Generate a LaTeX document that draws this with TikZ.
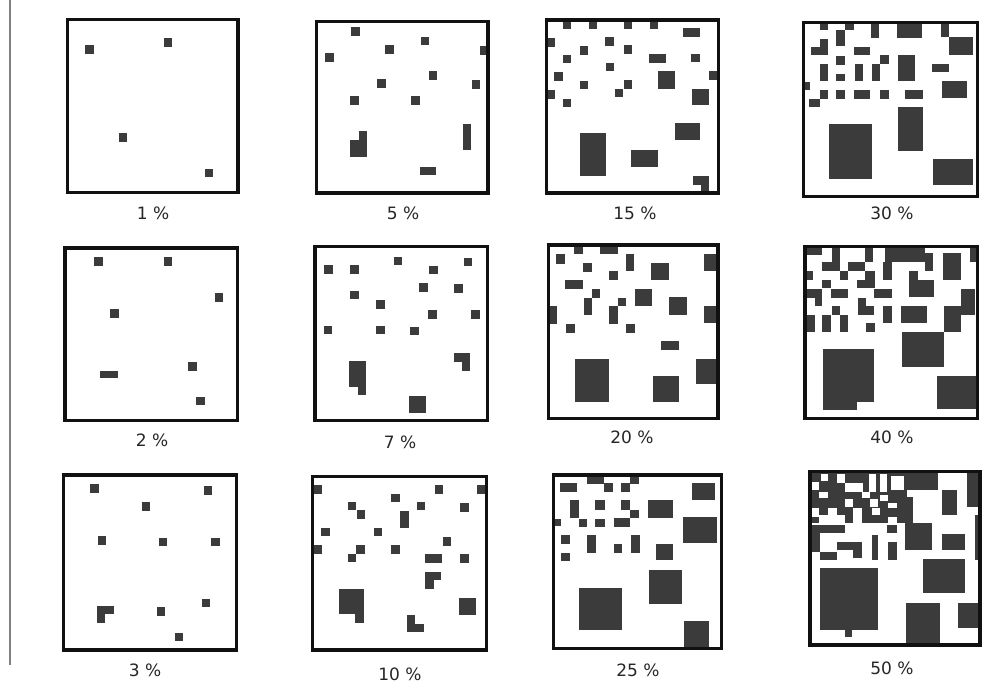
\documentclass[tikz,border=0pt]{standalone}
\usepackage{fontspec}
\setmainfont{DejaVu Sans}
\usepackage{xcolor}
\usepackage{tikz}
\definecolor{ink}{HTML}{3B3B3B}
\definecolor{rim}{HTML}{111111}
\definecolor{print}{HTML}{262626}

\begin{document}
\begin{tikzpicture}[
  x=1pt,y=-1pt,
  panel/.style={draw=rim,line width=3.8pt},
  blk/.style={fill=ink},
  hole/.style={fill=white},
  pct/.style={font=\fontsize{17}{19}\selectfont,text=print,inner sep=0pt}
]
\useasboundingbox (0,0) rectangle (998,683);
\draw[gray,line width=1.2pt] (10,0) -- (10,665);

\foreach \x/\y in {85/45,163.5/38,118.5/133,204.5/168.5}
  \fill[blk] (\x,\y) rectangle ++(8.5,8.5);

\foreach \x/\y in {351/27,420.5/36.5,385/45,325/53,480/46,428.5/71,377/79,471.5/80,350/96,411/96}
  \fill[blk] (\x,\y) rectangle ++(8.5,8.5);
\foreach \a/\b/\c/\d in {350/139.5/367/157,358.5/131/367/140,463/123.5/471/149.5,419.5/167/436/175}
  \fill[blk] (\a,\b) rectangle (\c,\d);

\foreach \x/\y in {562.5/20,588.5/20,623.5/20,649.5/20,546/38,605/37,579.5/46,623.5/45,562.5/54.5,691/53.5,
  605.5/62.5,554/72,709/71,579.5/80.5,623.5/80,614.5/88.5,546/90,562.5/98.5}
  \fill[blk] (\x,\y) rectangle ++(8.5,8.5);
\foreach \a/\b/\c/\d in {683/28/699.5/37,649/53.5/666/62.5,658/71/674.5/88.5,691.5/88.5/708.5/105,
  675/122.5/700/140,580/133/606/176,631/150/658/167,692.5/176/709/184.5,700.5/176/709/192}
  \fill[blk] (\a,\b) rectangle (\c,\d);

\foreach \a/\b/\c/\d in {819.5/23/827.5/30,836/30/844.5/46,844.5/23/853.5/30,871/23/879/38,896.5/23/922/37.5,
  940.5/23/948.5/37,948.5/37/972.5/54.5,820/38.5/827.5/54.5,810.5/46.5/827.5/54.5,853.5/46.5/870/55,
  836/55.5/844.5/64.5,880/55/888.5/63.5,871.5/64/880/81,897.5/55/914.5/81,931.5/64/948.5/72,
  819.5/64/827.5/81,836/73.5/844.5/81,854.5/64/862.5/81,803/81.5/810/90,941.5/80.5/966.5/97.5,
  819.5/90/827.5/98.5,808.5/98.5/819.5/106.5,836/90/844.5/98.5,853.5/90/870/98.5,880/90/888.5/98.5,
  905/90/922.5/98.5,897.5/106.5/922.5/151,828.5/124/871.5/178.5,932.5/159/973/185}
  \fill[blk] (\a,\b) rectangle (\c,\d);

\foreach \x/\y in {94/257,163.5/257,214.5/293,110/309,188/362,196/396.5}
  \fill[blk] (\x,\y) rectangle ++(8.5,8.5);
\fill[blk] (100,370.5) rectangle (117.5,378);

\foreach \x/\y in {324/265,350/265,393.5/256.5,429/265.5,463.5/257.5,419/283,454/284,350/290.5,376/300,
  428/310,471/310,323.5/325.5,376/325.5,410/326.5}
  \fill[blk] (\x,\y) rectangle ++(8.5,8.5);
\foreach \a/\b/\c/\d in {454/353/470/361.5,461.5/353/470/370.5,348.5/360.5/366/386.5,357.5/386/366/395,409/395.5/426/412.5}
  \fill[blk] (\a,\b) rectangle (\c,\d);

\foreach \a/\b/\c/\d in {574/246.5/582.5/254,600/246.5/617.5/254,556/254/565/263.5,625.5/254/634/271,
  582.5/262.5/591.5/271.5,651/262.5/669/280,703.5/253.5/718/271,608.5/271/617.5/280,565/280/582.5/289,
  591.5/289/600/297.5,583.5/297.5/591.5/315,617.5/297.5/626/306,608.5/306/617.5/324,634.5/288.5/651.5/306,
  669/297/686.5/315,548/306/556.5/324,703.5/306/718/323,566/323.5/574.5/332.5,626/323.5/634.5/332.5,
  660.5/341/678.5/349.5,574.5/359/609/402,652.5/376/678.5/402,695.5/358.5/718/384}
  \fill[blk] (\a,\b) rectangle (\c,\d);

\foreach \a/\b/\c/\d in {806.7/246.7/822.3/255,831.7/246.7/840/262.3,822.3/262.3/840/271,848.3/262.3/865/271,
  865/246.7/873.3/262.3,885/248.3/925/261.7,925/253.3/933.3/271,943.3/253.3/960.7/280,970/246.7/977.7/261.7,
  806.7/271/813.3/280,840/271/848.3/280,865/271/875/288.3,856.7/280/875/288.3,883.3/262.3/891.7/280,
  909/271/917.7/280,909/280/934.3/296.7,822.3/280/831/288.3,806.7/289.3/822.3/298.3,815/298.3/822.3/306,
  831/289.3/848.3/298.3,874.3/289.3/891.7/298.3,858.3/298.3/865.7/306,858.3/306/874.3/315,
  960.7/289.3/975/315,944.3/306/960.7/331.7,883.3/306/891.7/323.3,901/306/926.7/323.3,831.7/306/840/315,
  822.3/315/831/331.7,840/315/848.3/331.7,806.7/315/815/331.7,866/323.3/875/331.7,901.7/331.7/944/366.7,
  823.3/349.3/874.3/401.7,823.3/401.7/856.7/410,936.7/375.7/977.7/409}
  \fill[blk] (\a,\b) rectangle (\c,\d);

\foreach \x/\y in {90/484,203.5/486,141.5/502,97.5/536,158.5/537.5,211/537.5,156.5/607,201.5/598.5,174.5/632.5}
  \fill[blk] (\x,\y) rectangle ++(8.5,8.5);
\foreach \a/\b/\c/\d in {96.5/605.5/113.5/614,96.5/614/105/622.5}
  \fill[blk] (\a,\b) rectangle (\c,\d);

\foreach \x/\y in {313/485,434.5/485,477/485,391/493.5,347.5/501.5,356.5/510,416.5/501.5,460/503,321/527.5,
  373.5/527.5,313/545,356/545,347.5/553.5,391/545,442.5/537,460/554}
  \fill[blk] (\x,\y) rectangle ++(8.5,8.5);
\foreach \a/\b/\c/\d in {400/511/408.5/528,425/554/442/562.5,425/572/441/580,425/580/433.5/588.5,
  338.5/588.5/364/613.5,355/613/364/622.5,458.5/598/476/614.5,406.5/614.5/415/632,415/623.5/424/632}
  \fill[blk] (\a,\b) rectangle (\c,\d);

\foreach \a/\b/\c/\d in {560/482.5/577/492,586.5/476.5/603.5/483.5,603.5/482.5/612.5/492,621/482.5/630/492,
  630/476.5/638.5/483.5,691.5/482.5/715/499.5,570/500/578.5/517.5,595/500/604.5/509.5,621/500/630/509.5,
  630/509.5/638.5/517.5,647.5/500/672.5/517.5,554/518.5/561/526,578.5/518.5/587/526.5,595/518.5/604.5/526.5,
  613.5/517.5/630/526.5,682.5/516.5/717/543,561/535/569.5/543.5,586.5/535/596/552.5,613.5/543.5/622/552.5,
  631/535/639.5/552.5,656/543.5/672.5/560,561/552.5/569.5/561,648.5/569.5/682/603.5,579/587.5/622/630,
  683.5/621/708.5/647}
  \fill[blk] (\a,\b) rectangle (\c,\d);

\fill[blk] (811.7,471.7) rectangle (906.7,523.3);
\foreach \a/\b/\c/\d in {821/474/828.3/480.7,836.7/474/845/483.3,869/474/876/491.7,880/474/887/491.7,
  891/476/904/490,811.7/481.7/819/490,845/483.3/863.3/491.7,819/491.7/828.3/498.3,861.7/491.7/870/498.3,
  880/495/888.3/501,845/499.3/853.3/506.7,870/499.3/878.3/506.7,888.3/503/896.7/508,
  811.7/508.3/819/516.7,828.3/508.3/836.7/515,853.3/508.3/861.7/523.3,871.7/508.3/880/515,
  888.3/516.7/896.7/523.3,819/515/845/523.3}
  \fill[hole] (\a,\b) rectangle (\c,\d);
\foreach \a/\b/\c/\d in {811.7/525/820/551.7,820/525/845/533,836.7/541.7/861.7/550,853.3/550/861.7/558.3,
  820/551.7/836.7/560,871.7/535/878.3/560,888.3/541.7/896.7/560,886.7/525/896.7/533,905/473.3/938.3/490,
  896.7/496.7/913.3/523.3,905/523.3/931.7/550,941.7/490/956.7/515,966.7/473.3/977.7/506.7,975/515/978/560,
  941.7/534/965/550,923.3/559.3/965/593.3,820/568.3/878.3/630,845/630/851.7/636.7,905.7/603.3/940/643.3,
  958.3/603.3/977.7/628.3}
  \fill[blk] (\a,\b) rectangle (\c,\d);

\draw[panel] (67.5,19.5) rectangle (238,192.5);
\draw[panel] (316.5,21.5) rectangle (488,193);
\draw[panel] (546.5,20) rectangle (718.5,193);
\draw[panel] (803.5,22.5) rectangle (977.5,196.5);
\draw[panel] (65,248) rectangle (237.5,420.5);
\draw[panel] (315,246.5) rectangle (487.5,420.5);
\draw[panel] (548.5,245) rectangle (718,418.5);
\draw[panel] (805,246.5) rectangle (977.5,418.5);
\draw[panel] (63.5,475) rectangle (236.5,650);
\draw[panel] (312.5,476.5) rectangle (486.5,650);
\draw[panel] (553.5,475) rectangle (721.5,648.5);
\draw[panel] (810,471.5) rectangle (980,645);

\node[pct] (p1) at (153,213) {1 \%};
\node[pct] (p5) at (403,213) {5 \%};
\node[pct] (p15) at (635,213) {15 \%};
\node[pct] (p30) at (892,213) {30 \%};
\node[pct] (p2) at (152,440) {2 \%};
\node[pct] (p7) at (400,442) {7 \%};
\node[pct] (p20) at (632,437) {20 \%};
\node[pct] (p40) at (892,437) {40 \%};
\node[pct] (p3) at (145,670) {3 \%};
\node[pct] (p10) at (400,674) {10 \%};
\node[pct] (p25) at (638,670) {25 \%};
\node[pct] (p50) at (892,668) {50 \%};
\end{tikzpicture}
\end{document}
